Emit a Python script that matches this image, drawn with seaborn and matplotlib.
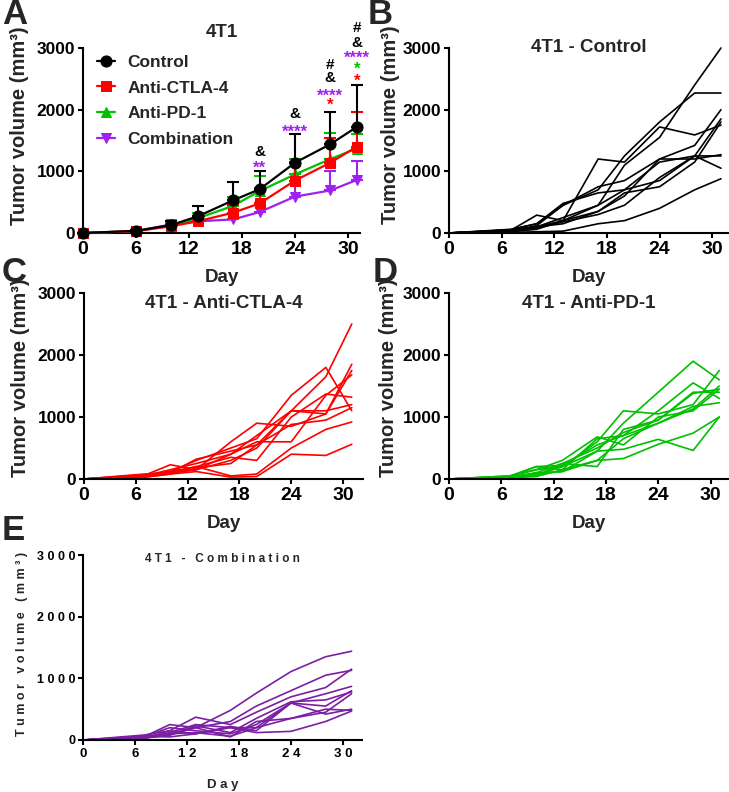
import numpy as np
import pandas as pd
import matplotlib.pyplot as plt
import seaborn as sns

# ---- panel A: group means with upper SD ----
days = [0, 6, 10, 13, 17, 20, 24, 28, 31]
groups = ["Control", "Anti-CTLA-4", "Anti-PD-1", "Combination"]
control_mean = [0, 35, 130, 270, 530, 710, 1140, 1440, 1720]
control_sd = [0, 20, 60, 160, 300, 290, 460, 520, 680]
ctla4_mean = [0, 30, 110, 190, 330, 480, 850, 1140, 1400]
ctla4_sd = [0, 15, 40, 60, 120, 250, 300, 400, 560]
pd1_mean = [0, 30, 120, 240, 440, 680, 950, 1200, 1370]
pd1_sd = [0, 15, 50, 80, 150, 240, 250, 420, 240]
combo_mean = [0, 30, 140, 190, 220, 340, 590, 690, 860]
combo_sd = [0, 15, 50, 60, 80, 150, 200, 310, 300]

# significance marks: (day, text, y, colour key)
sig_days = [20, 20, 24, 24, 28, 28, 28, 28, 31, 31, 31, 31, 31]
sig_text = ["&", "**", "&", "****", "#", "&", "****", "*", "#", "&", "****", "*", "*"]
sig_y = [1334, 1134, 1960, 1720, 2755, 2530, 2300, 2155, 3350, 3110, 2915, 2740, 2545]
sig_col = ["k", "combo", "k", "combo", "k", "k", "combo", "red", "k", "k", "combo", "green", "red"]

# ---- panels B-E: individual mice ----
days_mice = [0, 7, 10, 13, 17, 20, 24, 28, 31]
control_mice = [
    [0, 50, 100, 250, 450, 1100, 1550, 2400, 3000],
    [0, 60, 150, 450, 700, 1250, 1800, 2270, 2270],
    [0, 40, 290, 200, 1200, 1150, 1720, 1590, 1750],
    [0, 30, 120, 450, 750, 850, 1200, 1420, 2000],
    [0, 50, 150, 480, 650, 700, 1150, 1250, 1050],
    [0, 40, 100, 200, 350, 600, 1200, 1200, 1270],
    [0, 30, 80, 180, 300, 450, 900, 1250, 1850],
    [0, 40, 100, 150, 350, 650, 750, 1150, 1800],
    [0, 20, 60, 200, 450, 700, 850, 1250, 1250],
    [0, 10, 20, 30, 150, 200, 400, 700, 880],
]
ctla4_mice = [
    [0, 80, 100, 150, 400, 700, 1100, 1650, 2500],
    [0, 50, 120, 300, 500, 650, 1350, 1800, 1100],
    [0, 60, 230, 150, 600, 900, 850, 1050, 1850],
    [0, 40, 100, 320, 450, 550, 1100, 1050, 1750],
    [0, 30, 80, 200, 350, 300, 1000, 1370, 1320],
    [0, 50, 150, 250, 400, 600, 600, 1350, 1680],
    [0, 40, 100, 150, 300, 500, 1100, 1100, 1200],
    [0, 70, 120, 200, 50, 80, 500, 800, 920],
    [0, 30, 80, 120, 30, 40, 400, 380, 560],
    [0, 40, 100, 180, 250, 550, 880, 950, 1150],
]
pd1_mice = [
    [0, 30, 60, 200, 450, 900, 1400, 1900, 1600],
    [0, 40, 150, 200, 600, 1100, 1050, 1200, 1750],
    [0, 50, 200, 150, 650, 700, 1100, 1550, 1300],
    [0, 20, 100, 250, 500, 750, 950, 1400, 1400],
    [0, 30, 100, 120, 300, 650, 900, 1130, 1500],
    [0, 40, 200, 220, 550, 700, 900, 1170, 1230],
    [0, 30, 50, 250, 200, 800, 950, 1380, 1450],
    [0, 20, 40, 150, 300, 330, 560, 740, 1000],
    [0, 30, 80, 120, 450, 480, 640, 460, 1000],
    [0, 50, 150, 300, 680, 550, 1000, 1100, 1450],
]
combo_mice = [
    [0, 60, 100, 200, 480, 760, 1110, 1350, 1440],
    [0, 50, 250, 200, 300, 550, 800, 1050, 1130],
    [0, 80, 150, 370, 250, 450, 700, 850, 1150],
    [0, 40, 120, 250, 200, 200, 600, 750, 870],
    [0, 30, 80, 230, 120, 350, 620, 650, 780],
    [0, 50, 200, 150, 100, 250, 600, 550, 800],
    [0, 40, 100, 120, 60, 200, 350, 450, 750],
    [0, 60, 50, 100, 220, 150, 600, 420, 500],
    [0, 30, 80, 200, 50, 300, 350, 500, 480],
    [0, 20, 150, 100, 200, 120, 140, 300, 470],
]

colors = {"k": "black", "red": "#ff0000", "green": "#00c000", "combo": "#a020f0"}
combo_dark = "#7b1fa2"

sns.set_style("ticks")
plt.rcParams["font.family"] = ["Liberation Sans", "DejaVu Sans"]
plt.rcParams["font.weight"] = "bold"
plt.rcParams["axes.labelweight"] = "bold"
plt.rcParams["axes.titleweight"] = "bold"
plt.rcParams["axes.linewidth"] = 1.5
plt.rcParams["xtick.major.width"] = 1.5
plt.rcParams["ytick.major.width"] = 1.5
plt.rcParams["xtick.major.size"] = 3.5
plt.rcParams["ytick.major.size"] = 3.5
plt.rcParams["xtick.major.pad"] = 2
plt.rcParams["ytick.major.pad"] = 2
plt.rcParams["axes.edgecolor"] = "black"
plt.rcParams["xtick.color"] = "black"
plt.rcParams["ytick.color"] = "black"

fig = plt.figure(figsize=(7.29, 7.92), dpi=100)
W, H = 729, 792


def add_ax(left, top, right, bottom):
    return fig.add_axes([left / W, 1 - bottom / H, (right - left) / W, (bottom - top) / H])


axA = add_ax(83, 48, 360, 233)
axB = add_ax(449, 48, 728, 233)
axC = add_ax(84, 293, 363, 479)
axD = add_ax(449, 293, 728, 479)
axE = add_ax(83, 555, 362, 740)


def style(ax, xmax, spaced=False):
    ax.set_xlim(0, xmax)
    ax.set_ylim(0, 3000)
    ax.set_xticks([0, 6, 12, 18, 24, 30])
    ax.set_yticks([0, 1000, 2000, 3000])
    sns.despine(ax=ax)
    if spaced:
        ax.set_xticklabels([" ".join(str(v)) for v in [0, 6, 12, 18, 24, 30]], fontsize=9.5)
        ax.set_yticklabels([" ".join(str(v)) for v in [0, 1000, 2000, 3000]], fontsize=9)
        ax.set_xlabel("D a y", fontsize=9.5)
        ax.set_ylabel("T u m o r   v o l u m e   ( m m ³ )", fontsize=9)
    else:
        ax.tick_params(axis="x", labelsize=14)
        ax.tick_params(axis="y", labelsize=12.5)
        ax.set_xlabel("Day", fontsize=13.5)
        ax.set_ylabel("Tumor volume (mm³)", fontsize=14.5)
    ax.xaxis.label.set_verticalalignment("center")
    ax.yaxis.label.set_verticalalignment("center")


# ---- panel A ----
series = [
    (groups[0], control_mean, control_sd, "black", "o", 8, 6),
    (groups[1], ctla4_mean, ctla4_sd, colors["red"], "s", 7.5, 5),
    (groups[2], pd1_mean, pd1_sd, colors["green"], "^", 7.5, 4),
    (groups[3], combo_mean, combo_sd, colors["combo"], "v", 7.5, 3),
]
for name, m, sd, c, mk, ms, z in series:
    ax = axA
    ax.errorbar(days, m, yerr=[np.zeros(len(sd)), sd], fmt="none", ecolor=c,
                elinewidth=1.5, capsize=4, capthick=1.5, zorder=z - 0.5, clip_on=False)
    sns.lineplot(x=days, y=m, ax=ax, color=c, marker=mk, markersize=ms,
                 markeredgecolor=c, linewidth=1.6, label=name, zorder=z, clip_on=False)

style(axA, 31.36)
axA.set_title("4T1", fontsize=13.5, pad=8)
axA.legend(loc="upper left", bbox_to_anchor=(0.05, 0.965), frameon=False, fontsize=12.5,
           handlelength=1.05, handletextpad=0.7, labelspacing=0.62, borderpad=0, borderaxespad=0)

for d, t, y, ck in zip(sig_days, sig_text, sig_y, sig_col):
    if "*" in t:
        axA.text(d, y - 157, t, color=colors[ck], fontsize=12, ha="center", va="baseline")
    else:
        axA.text(d, y - 89, t, color=colors[ck], fontsize=11, ha="center", va="baseline")


# ---- panels B-E ----
def mice_frame(mice):
    rows = []
    for i, vals in enumerate(mice):
        for d, v in zip(days_mice, vals):
            rows.append({"day": d, "volume": v, "mouse": i})
    return pd.DataFrame(rows)


panels = [
    (axB, control_mice, "black", "4T1 - Control", 31.8, 1.005, False),
    (axC, ctla4_mice, colors["red"], "4T1 - Anti-CTLA-4", 32.3, 0.946, False),
    (axD, pd1_mice, colors["green"], "4T1 - Anti-PD-1", 32.0, 0.941, False),
    (axE, combo_mice, combo_dark, "4 T 1   -   C o m b i n a t i o n", 32.2, 0.976, True),
]
for ax, mice, c, title, xmax, ty, spaced in panels:
    sns.lineplot(data=mice_frame(mice), x="day", y="volume", units="mouse",
                 estimator=None, color=c, linewidth=1.2, ax=ax, clip_on=False)
    style(ax, xmax, spaced)
    ax.text(0.5, ty, title, transform=ax.transAxes, ha="center", va="center",
            fontsize=8.5 if spaced else 13.5, fontweight="bold")

# axis label positions (axes coords)
axA.xaxis.set_label_coords(0.5, -45 / 185)
axB.xaxis.set_label_coords(0.5, -45 / 185)
axC.xaxis.set_label_coords(0.5, -44 / 186)
axD.xaxis.set_label_coords(0.5, -44 / 186)
axE.xaxis.set_label_coords(0.5, -45 / 185)
axA.yaxis.set_label_coords(-63 / 277, (233 - 126) / 185)
axB.yaxis.set_label_coords(-59 / 279, (233 - 125) / 185)
axC.yaxis.set_label_coords(-64 / 279, (479 - 378) / 186)
axD.yaxis.set_label_coords(-60 / 279, (479 - 378) / 186)
axE.yaxis.set_label_coords(-61 / 279, (740 - 644) / 185)

# panel letters
for letter, x, y in [("A", 15, 15), ("B", 380, 15), ("C", 14, 273), ("D", 385, 273), ("E", 13, 531)]:
    fig.text(x / W, 1 - y / H, letter, fontsize=25, fontweight="bold", ha="center", va="center")

fig.savefig("out.png", dpi=100)
